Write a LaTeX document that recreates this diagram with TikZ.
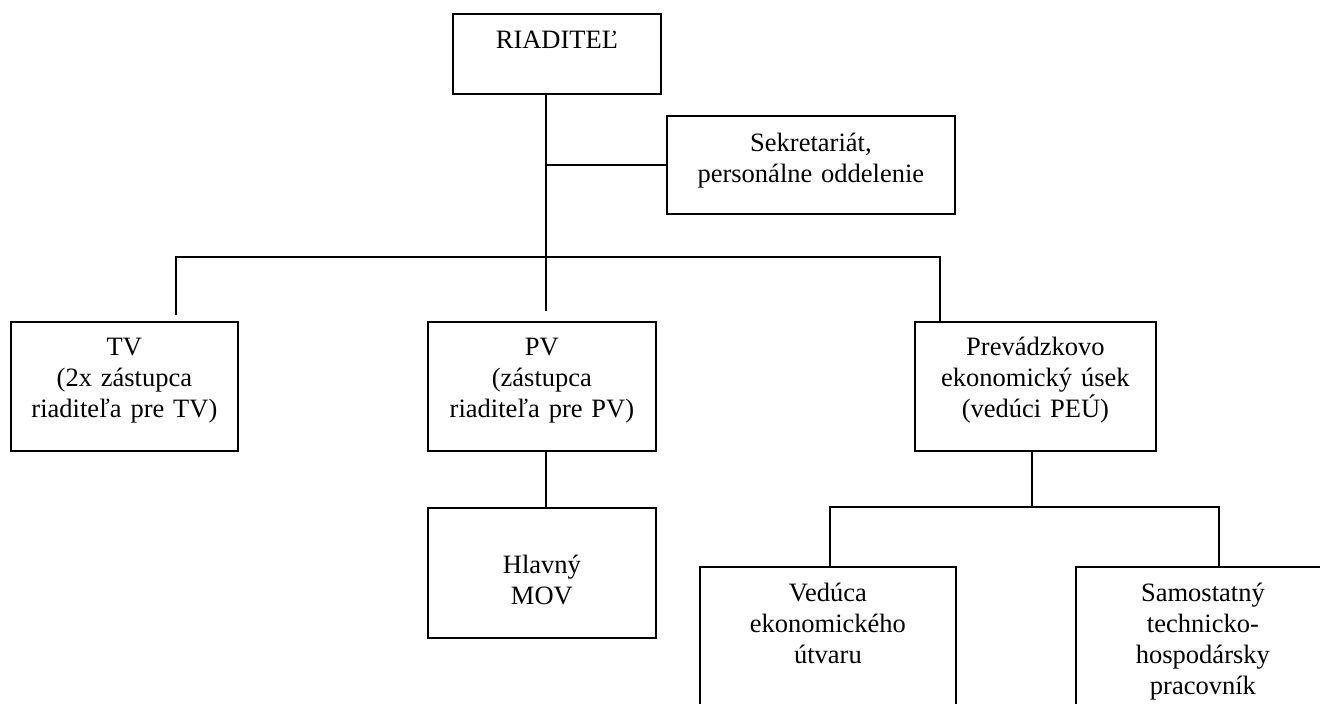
\documentclass[tikz,border=0pt]{standalone}
\usepackage{fontspec}
\setmainfont{Liberation Serif}
\usepackage{tikz}

\begin{document}
\begin{tikzpicture}[x = 1pt, y = -1pt]
\tikzstyle{box}=[draw, line width = 1.8pt, anchor = north west, align = center, inner sep = 0pt, font = \fontsize{26.5}{31}\selectfont]
\tikzstyle{line}=[line width = 1.8pt]
\useasboundingbox (0,0) rectangle (1320,704);
\clip (0,0) rectangle (1320,704);
\node (R) [box, text width = 208pt, text height = 35pt, text depth = 45pt]  at (452, 13)   {RIADITEĽ};
\node (S) [box, text width = 288pt, text height = 36pt, text depth = 62pt]  at (666, 115)  {Sekretariát,\\ personálne oddelenie};
\coordinate (top)   at (546, 257);
\coordinate (left)  at (176, 257);
\coordinate (right) at (940, 257);
\draw [line] (R.south -| top) -- (top);
\draw [line] (S.west -| top) -- (S.west);
\node (TV)  [box, text width = 227pt, text height = 34pt, text depth = 95pt]  at (10, 321)   {TV\\ (2x zástupca\\ riaditeľa pre TV)};
\node (PV)  [box, text width = 228pt, text height = 34pt, text depth = 95pt]  at (427, 321)  {PV\\ (zástupca\\ riaditeľa pre PV)};
\node (PEU) [box, text width = 241pt, text height = 34pt, text depth = 95pt]  at (914, 321)  {Prevádzkovo\\ ekonomický úsek\\ (vedúci PEÚ)};
\draw [line, shorten <= 6pt] (left |- TV.north) -- (left) -- (right) -- (right |- PEU.north);
\draw [line, shorten >= 10pt] (top) -- (top |- PV.north);
\node (MOV) [box, text width = 228pt, text height = 66pt, text depth = 64pt]  at (427, 507)  {Hlavný\\ MOV};
\draw [line] (PV.south -| top) -- (MOV.north -| top);
\coordinate (lowL) at (830, 507);
\coordinate (lowM) at (1032, 507);
\coordinate (lowR) at (1219, 507);
\node (VEU) [box, text width = 256pt, text height = 35pt, text depth = 160pt] at (699, 566)  {Vedúca\\ ekonomického\\ útvaru};
\node (STH) [box, text width = 254pt, text height = 35pt, text depth = 160pt] at (1075, 566) {Samostatný\\ technicko-\\ hospodársky\\ pracovník};
\draw [line] (PEU.south -| lowM) -- (lowM);
\draw [line] (lowL |- VEU.north) -- (lowL) -- (lowR) -- (lowR |- STH.north);
\end{tikzpicture}
\end{document}
